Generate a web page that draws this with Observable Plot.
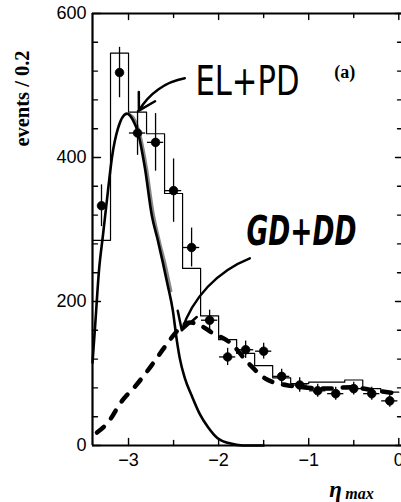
<!DOCTYPE html>
<html><head><meta charset="utf-8">
<script src="https://cdn.jsdelivr.net/npm/d3@7"></script>
<script src="https://cdn.jsdelivr.net/npm/@observablehq/plot@0.6"></script>
<style>
html,body{margin:0;padding:0;background:#fff;}
#chart{width:401px;height:502px;overflow:hidden;}
</style></head><body><div id="chart"></div>
<script>
// Monte Carlo histogram (bins of 0.2 in eta_max)
const binStart = [-3.4,-3.2,-3.0,-2.8,-2.6,-2.4,-2.2,-2.0,-1.8,-1.6,-1.4,-1.2,-1.0,-0.8,-0.6,-0.4,-0.2];
const binEnd = 0;
const mcEvents = [285,545,463,433,350,246,180,147,128,111,94,86,88,88,91,79,74];

// Data points with errors
const dataEta = [-3.3,-3.1,-2.9,-2.7,-2.5,-2.3,-2.1,-1.9,-1.7,-1.5,-1.3,-1.1,-0.9,-0.7,-0.5,-0.3,-0.1];
const dataEvents = [333,518,434,421,354,275,174,123,133,131,96,84,76,72,79,72,62];
const dataErr = [29,35,31,40,44,27,14,12,12,11,10,10,9,9,9,9,9];
const dataEtaErr = [0,0,0.09,0.09,0.09,0.09,0.09,0.09,0.09,0.09,0.09,0.09,0.09,0.09,0.09,0.09,0.09];

// EL+PD curve
const elpdEta = [-3.4,-3.372,-3.328,-3.284,-3.228,-3.184,-3.118,-3.018,-2.951,-2.896,-2.819,-2.741,-2.675,-2.619,-2.564,-2.509,-2.464,-2.431,-2.376,-2.298,-2.21,-2.121,-2.011,-1.877,-1.733,-1.5];
const elpdEvents = [115,164,243,292,354,400,440,461,452,435,386,319,285,254,222,188,146,121,94,69,44,26,10,3,0,0];
// grey shading beside the EL+PD falling edge
const elpdShadeEta = [-2.99,-2.93,-2.87,-2.80,-2.73,-2.66,-2.59,-2.53];
const elpdShadeEvents = [460,452,430,385,325,285,250,215];

// GD+DD curve (dashed)
const gdddEta = [-3.35,-3.228,-3.084,-2.907,-2.752,-2.597,-2.453,-2.32,-2.21,-2.077,-1.864,-1.667,-1.468,-1.202,-0.794,-0.537,-0.249,0];
const gdddEvents = [18,32,60,85,110,137,160,171,167,157,142,114,92,83,79,81,76,72];

// Annotations
const noteText = ["EL+PD","GD+DD","(a)"];
const noteEta = [-1.68,-1.08,-0.60];
const noteEvents = [505,296,518];
const arrowFromEta = [-2.376,-1.654];
const arrowFromEvents = [510,260];
const arrowToEta = [-2.885,-2.409];
const arrowToEvents = [465,160];

// Ticks
const yMajor = [0,200,400,600];
const yMinor = [40,80,120,160,240,280,320,360,440,480,520,560];
const xMajor = [-3,-2,-1,0];
const xMinor = [-2.5,-1.5,-0.5];

const hist = binStart.map((x,i)=>({eta:x, v:mcEvents[i]})).concat([{eta:binEnd, v:mcEvents[mcEvents.length-1]}]);
const pts = dataEta.map((x,i)=>({eta:x, v:dataEvents[i], e:dataErr[i], ex:dataEtaErr[i]}));
const elpd = elpdEta.map((x,i)=>({eta:x, v:elpdEvents[i]}));
const shade = elpdShadeEta.map((x,i)=>({eta:x, v:elpdShadeEvents[i]}));
const gddd = gdddEta.map((x,i)=>({eta:x, v:gdddEvents[i]}));
const notes = noteText.map((t,i)=>({t, eta:noteEta[i], v:noteEvents[i]}));
const arrows = arrowFromEta.map((x,i)=>({x1:x, y1:arrowFromEvents[i], x2:arrowToEta[i], y2:arrowToEvents[i]}));

const tickShape = {draw(ctx, l){ ctx.moveTo(0,0); ctx.lineTo(0,-l); }};
const tk = (data, anchor, len, rot, ch) => Plot.vector(data, {[ch]: d=>d, frameAnchor: anchor, rotate: rot, length: len, anchor: "start", shape: tickShape, strokeWidth: 1.4});
const serif = "'Liberation Serif','Times New Roman',serif";

const chart = Plot.plot({
  width: 401, height: 502,
  marginLeft: 92, marginRight: 0, marginTop: 13, marginBottom: 57,
  style: {background: "#fff", color: "#000", fontFamily: "'Liberation Sans', Arial, sans-serif", fontSize: "18px"},
  x: {domain: [-3.4, 0.03], axis: null},
  y: {domain: [0, 600], axis: null},
  marks: [
    // frame
    Plot.ruleX([-3.4], {strokeWidth: 2.2}),
    Plot.ruleY([0], {strokeWidth: 2.2}),
    Plot.ruleY([600], {strokeWidth: 2}),
    // ticks
    tk(yMajor, "left", 8, 90, "y"), tk(yMinor, "left", 5, 90, "y"),
    tk(yMajor, "right", 6, -90, "y"), tk(yMinor, "right", 4, -90, "y"),
    tk(xMajor, "bottom", 7, 0, "x"), tk(xMinor, "bottom", 5, 0, "x"),
    tk(xMajor, "top", 6, 180, "x"), tk(xMinor, "top", 4, 180, "x"),
    Plot.axisY(yMajor, {anchor: "left", tickSize: 0, tickPadding: 6, label: null, fontSize: 18}),
    Plot.axisX(xMajor, {anchor: "bottom", tickSize: 0, tickPadding: 8, label: null, fontSize: 18}),
    // histogram
    Plot.line(hist, {x: "eta", y: "v", curve: "step-after", stroke: "#000", strokeWidth: 1.2}),
    // curves
    Plot.line(shade, {x: "eta", y: "v", curve: "monotone-x", stroke: "#888", strokeWidth: 3}),
    Plot.line(elpd, {x: "eta", y: "v", curve: "monotone-x", stroke: "#000", strokeWidth: 2.6}),
    Plot.line(gddd, {x: "eta", y: "v", curve: "monotone-x", stroke: "#000", strokeWidth: 4.5, strokeDasharray: "9,11", strokeLinecap: "round"}),
    // data
    Plot.ruleX(pts, {x: "eta", y1: d=>d.v-d.e, y2: d=>d.v+d.e, strokeWidth: 1.3}),
    Plot.ruleY(pts.filter(d=>d.ex>0), {y: "v", x1: d=>d.eta-d.ex, x2: d=>d.eta+d.ex, strokeWidth: 1.3}),
    Plot.dot(pts, {x: "eta", y: "v", r: 4.3, fill: "#000", stroke: "#000", strokeWidth: 0.8}),
    // arrows
    Plot.arrow(arrows, {x1: "x1", y1: "y1", x2: "x2", y2: "y2", bend: -25, strokeWidth: 2.5, headLength: 12, stroke: "#000"}),
    // notes
    Plot.text([notes[0]], {x: "eta", y: "v", text: "t", fontSize: 40, fontFamily: "'Liberation Sans Narrow','DejaVu Sans Condensed','Liberation Sans',sans-serif", fontWeight: "normal", fill: "#000"}),
    Plot.text([notes[1]], {x: "eta", y: "v", text: "t", fontSize: 40, fontFamily: "'Liberation Sans Narrow','DejaVu Sans Condensed','Liberation Sans',sans-serif", fontWeight: "bold", fontStyle: "italic", fill: "#000"}),
    Plot.text([notes[2]], {x: "eta", y: "v", text: "t", fontSize: 18, fontFamily: serif, fontWeight: "bold", fill: "#000"}),
    // axis titles
    Plot.text(["events / 0.2"], {frameAnchor: "top-left", textAnchor: "middle", lineAnchor: "middle", dx: -70, dy: 85, rotate: -90, fontSize: 20.5, fontWeight: "bold", fontFamily: serif, fill: "#000"}),
    Plot.text(["η"], {frameAnchor: "bottom-left", textAnchor: "middle", lineAnchor: "middle", dx: 243, dy: 44, fontSize: 23, fontStyle: "italic", fontWeight: "bold", fontFamily: serif, fill: "#000"}),
    Plot.text(["max"], {frameAnchor: "bottom-left", textAnchor: "middle", lineAnchor: "middle", dx: 267, dy: 48, fontSize: 16, fontStyle: "italic", fontWeight: "bold", fontFamily: serif, fill: "#000"})
  ]
});
document.getElementById("chart").appendChild(chart);
// fit handwritten labels to their width
d3.select(chart).selectAll("text").each(function(){
  const t = this.textContent;
  if (t === "EL+PD") { this.setAttribute("textLength", 104); this.setAttribute("lengthAdjust", "spacingAndGlyphs"); }
  if (t === "GD+DD") { this.setAttribute("textLength", 110); this.setAttribute("lengthAdjust", "spacingAndGlyphs"); }
});
</script></body></html>
